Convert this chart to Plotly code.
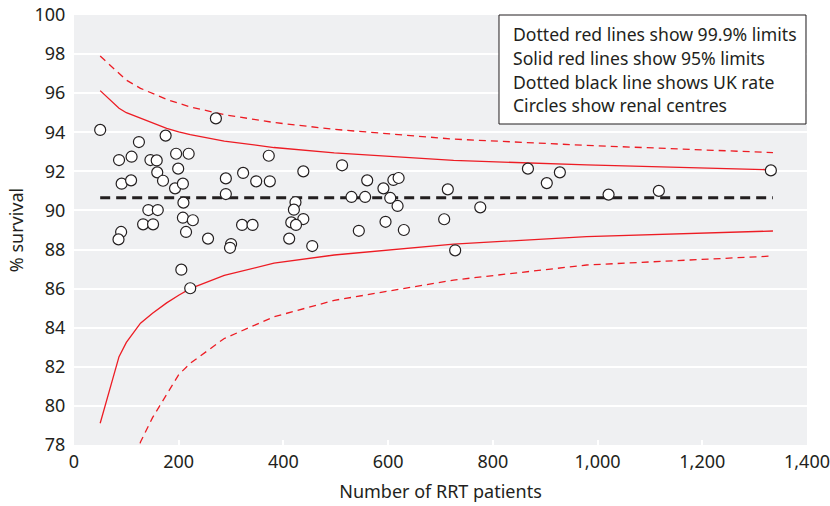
import plotly.graph_objects as go

# Renal centres: number of RRT patients and one-year % survival
centre_patients = [
    50, 271, 124, 175, 86, 110, 146, 158, 195, 219, 159, 199, 91, 109, 170, 193,
    208, 290, 290, 209, 142, 160, 208, 227, 132, 151, 90, 85, 214, 256, 300, 298,
    205, 222,
    372, 323, 348, 374, 438, 512, 560, 610, 620, 591, 423, 420, 530, 556, 604, 618,
    438, 415, 424, 321, 341, 595, 544, 630, 411, 455,
    867, 928, 903, 714, 1021, 776, 707, 728, 1117, 1331,
]
centre_survival = [
    94.12, 94.71, 93.50, 93.83, 92.58, 92.75, 92.58, 92.56, 92.90, 92.90, 91.95, 92.14,
    91.37, 91.54, 91.52, 91.13, 91.37, 91.64, 90.84, 90.40, 90.02, 90.02, 89.63, 89.50,
    89.29, 89.29, 88.90, 88.52, 88.90, 88.56, 88.28, 88.09, 86.97, 86.02,
    92.80, 91.92, 91.49, 91.49, 92.00, 92.31, 91.54, 91.56, 91.66, 91.13, 90.42, 90.04,
    90.69, 90.69, 90.64, 90.23, 89.56, 89.39, 89.26, 89.26, 89.26, 89.42, 88.96, 89.00,
    88.56, 88.18,
    92.14, 91.95, 91.40, 91.08, 90.81, 90.16, 89.55, 87.96, 91.00, 92.05,
]

# UK average survival
uk_patients = [50, 1335]
uk_rate = [90.65, 90.65]

# Funnel control limits
limit_patients = [50, 86, 100, 127, 150, 177, 200, 222, 287, 382, 497, 725, 979, 1335]
upper_95 = [96.13, 95.23, 95.00, 94.71, 94.45, 94.20, 94.02, 93.88, 93.55, 93.22, 92.95, 92.56, 92.33, 92.08]
lower_95 = [79.11, 82.52, 83.25, 84.23, 84.74, 85.27, 85.66, 86.00, 86.68, 87.30, 87.72, 88.28, 88.66, 88.95]
upper_999 = [97.90, 97.00, 96.67, 96.25, 95.98, 95.68, 95.48, 95.30, 94.90, 94.50, 94.15, 93.65, 93.33, 92.96]
lower_999 = [66.00, 74.00, 75.50, 78.15, 79.40, 80.60, 81.60, 82.18, 83.45, 84.56, 85.40, 86.44, 87.21, 87.67]

x_ticks = [0, 200, 400, 600, 800, 1000, 1200, 1400]
y_ticks = [78, 80, 82, 84, 86, 88, 90, 92, 94, 96, 98, 100]

key_lines = [
    "Dotted red lines show 99.9% limits",
    "Solid red lines show 95% limits",
    "Dotted black line shows UK rate",
    "Circles show renal centres",
]

RED = "#ed1c24"
INK = "#231f20"
FONT = "Noto Sans"

fig = go.Figure()

for ys in (upper_999, lower_999):
    fig.add_trace(go.Scatter(x=limit_patients, y=ys, mode="lines",
                             line=dict(color=RED, width=1.3, dash="7px,5px"),
                             hoverinfo="skip"))
for ys in (upper_95, lower_95):
    fig.add_trace(go.Scatter(x=limit_patients, y=ys, mode="lines",
                             line=dict(color=RED, width=1.3),
                             hoverinfo="skip"))

fig.add_trace(go.Scatter(x=uk_patients, y=uk_rate, mode="lines",
                         line=dict(color=INK, width=3, dash="10px,6px"),
                         hoverinfo="skip"))

fig.add_trace(go.Scatter(x=centre_patients, y=centre_survival, mode="markers",
                         marker=dict(size=11, color="white",
                                     line=dict(color=INK, width=1.2))))

# Key box in the top-right corner
fig.add_shape(type="rect", xref="paper", yref="paper",
              x0=0.5798, x1=0.9986, y0=0.7465, y1=1.0,
              line=dict(color=INK, width=1), fillcolor="white", layer="above")
key_y = [0.9558, 0.9000, 0.8453, 0.7907]
for text, yy in zip(key_lines, key_y):
    fig.add_annotation(text=text, xref="paper", yref="paper", x=0.5962, y=yy,
                       xanchor="left", yanchor="middle", showarrow=False,
                       font=dict(family=FONT, size=17.6, color=INK))

fig.update_layout(
    width=830, height=506,
    margin=dict(l=74, r=23, t=15, b=61, autoexpand=False),
    paper_bgcolor="white",
    plot_bgcolor="#eff0f2",
    showlegend=False,
    font=dict(family=FONT, size=18, color=INK),
    xaxis=dict(range=[0, 1400], tickvals=x_ticks, tickformat=",",
               automargin=False, ticklabeloverflow="allow",
               showgrid=False, zeroline=False, showline=False,
               ticks="inside", ticklen=5, tickwidth=2, tickcolor="white",
               ticklabelstandoff=4,
               title=dict(text="Number of RRT patients", standoff=13,
                          font=dict(size=18))),
    yaxis=dict(range=[78, 100], tickvals=y_ticks, automargin=False,
               ticklabeloverflow="allow",
               showgrid=True, gridcolor="white", gridwidth=2,
               zeroline=False, showline=False,
               ticks="outside", ticklen=4, tickcolor="rgba(0,0,0,0)",
               title=dict(text="% survival", standoff=6,
                          font=dict(size=18))),
)

fig.write_html("out.html")
